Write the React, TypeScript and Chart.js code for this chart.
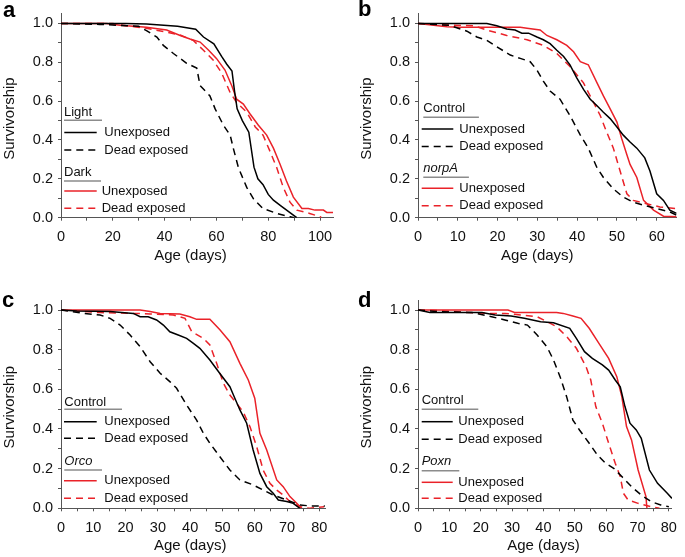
import React, { useEffect, useRef } from 'react';
import { Chart, registerables } from 'chart.js';

Chart.register(...registerables);

type Pt = [number, number];

// ---------- Panel a ----------
const aLightUnexposed: Pt[] = [[0,1],[25,1],[33,0.997],[45,0.985],[52,0.97],[55,0.93],[59,0.895],[62,0.83],[64,0.79],[66,0.755],[67,0.65],[68,0.56],[70,0.5],[72.5,0.44],[74.5,0.26],[76,0.2],[78,0.17],[80,0.12],[82,0.09],[85,0.06],[88,0.03],[91,0]];
const aLightDead: Pt[] = [[0,1],[15,0.995],[30,0.985],[33,0.963],[37,0.93],[39.5,0.887],[43.4,0.845],[48.5,0.795],[52.4,0.77],[53.7,0.68],[57.5,0.627],[59.5,0.56],[62.7,0.476],[65.3,0.425],[66.5,0.358],[68.5,0.257],[71.7,0.156],[74.3,0.097],[78,0.047],[83.3,0.022],[88.4,0.005],[90,0]];
const aDarkUnexposed: Pt[] = [[0,1],[17.6,1],[22.8,0.99],[33,0.98],[40.8,0.966],[46,0.938],[49.8,0.92],[53.7,0.904],[57,0.862],[60,0.82],[63.3,0.76],[66,0.677],[67.8,0.61],[70.4,0.585],[73,0.534],[76.2,0.476],[79.4,0.425],[82,0.358],[84.6,0.274],[87,0.19],[89.7,0.106],[93,0.047],[95.5,0.047],[98,0.039],[101.3,0.039],[102.6,0.027],[105,0.027]];
const aDarkDead: Pt[] = [[0,1],[20,1],[24,0.99],[33,0.975],[40.8,0.955],[46,0.94],[51,0.913],[55,0.862],[58.8,0.81],[62,0.745],[65.3,0.644],[67.8,0.593],[71.7,0.543],[75,0.467],[78,0.425],[80.7,0.341],[83.3,0.257],[85.8,0.156],[88.4,0.08],[91,0.039],[96,0.022],[100,0.005],[100.5,0]];

// ---------- Panel b ----------
const bControlUnexposed: Pt[] = [[0,1],[17.3,1],[19.8,0.988],[22.3,0.971],[24.4,0.966],[26.1,0.95],[27.8,0.95],[29.9,0.93],[31.5,0.916],[33.2,0.896],[34.9,0.862],[36.6,0.83],[38.2,0.787],[39.9,0.72],[41.6,0.66],[43.3,0.61],[45,0.576],[46.6,0.543],[48.3,0.51],[50,0.467],[51.6,0.425],[53.3,0.39],[55,0.358],[57,0.308],[58.3,0.24],[60,0.123],[61.7,0.089],[63.3,0.039],[65,0.022]];
const bControlDead: Pt[] = [[0,1],[8,0.99],[12.3,0.96],[14.8,0.93],[17.3,0.913],[19.8,0.88],[23.2,0.837],[25.7,0.82],[28.2,0.803],[29.9,0.76],[31.5,0.703],[33.2,0.652],[35.7,0.61],[38.2,0.526],[40.8,0.425],[42.8,0.358],[45,0.257],[46.6,0.207],[49.1,0.148],[51.6,0.106],[54.1,0.08],[56.7,0.064],[60,0.047],[63.3,0.03],[65,0.013]];
const bNorpAUnexposed: Pt[] = [[0,1],[7.3,0.983],[10.6,0.98],[25.7,0.98],[27.4,0.975],[30.7,0.966],[32.4,0.938],[34.9,0.916],[37.4,0.887],[39.1,0.854],[40.8,0.803],[42.8,0.787],[45,0.694],[46.6,0.627],[48.3,0.56],[50,0.492],[51.2,0.408],[52.5,0.324],[53.3,0.274],[55,0.207],[56.7,0.089],[59.2,0.039],[61.7,0.008],[65,0.005]];
const bNorpADead: Pt[] = [[0,1],[5.6,0.993],[14,0.988],[17.3,0.966],[22.3,0.938],[27.4,0.916],[31.5,0.887],[34.9,0.845],[38.2,0.778],[41.6,0.694],[43.7,0.61],[45.8,0.526],[47.4,0.442],[49.1,0.358],[50.8,0.24],[52.5,0.123],[54.1,0.089],[57.5,0.072],[60.8,0.055],[65,0.047]];

// ---------- Panel c ----------
const cControlUnexposed: Pt[] = [[0,1],[4.9,0.995],[15.2,0.992],[22.4,0.983],[24.5,0.966],[27,0.966],[29.6,0.95],[31.7,0.924],[33.7,0.89],[36.3,0.874],[38.9,0.857],[41,0.832],[43,0.807],[46.1,0.748],[49.2,0.68],[52.3,0.613],[53.4,0.571],[55.4,0.496],[57.5,0.429],[59.5,0.294],[61.6,0.176],[63.7,0.109],[65.7,0.076],[67.3,0.042],[69.9,0.034],[71.9,0.025],[74,0]];
const cControlDead: Pt[] = [[0,1],[6.9,0.983],[12.1,0.975],[15.2,0.958],[18.3,0.924],[21.4,0.874],[24.5,0.815],[27.6,0.739],[30.7,0.681],[33.7,0.639],[35.8,0.605],[38.9,0.521],[42,0.445],[44.1,0.378],[46.1,0.328],[49.2,0.26],[52.3,0.193],[55.4,0.143],[59.5,0.118],[62.6,0.092],[65.7,0.067],[69.9,0.042],[74,0.017],[77,0.012],[81.7,0.012]];
const cOrcoUnexposed: Pt[] = [[0,1],[24.5,1],[27.6,0.992],[30.7,0.983],[36.8,0.98],[39.9,0.966],[42,0.953],[46.1,0.953],[49.2,0.9],[52.3,0.84],[55.4,0.731],[58,0.647],[60,0.555],[61.6,0.378],[63.7,0.294],[66.8,0.143],[68.8,0.109],[70.9,0.059],[73,0.025],[74.5,0]];
const cOrcoDead: Pt[] = [[0,1],[4.9,0.995],[12.1,0.987],[22.4,0.983],[27.6,0.98],[34.8,0.975],[38.4,0.958],[40.5,0.89],[44.1,0.857],[46.1,0.824],[48.2,0.731],[50.3,0.63],[52.3,0.571],[54.4,0.529],[56.4,0.487],[58.5,0.412],[60.6,0.311],[62.6,0.193],[64.7,0.126],[66.8,0.092],[68.8,0.067],[70.9,0.034],[74,0.008],[77,0],[81.5,0.008]];

// ---------- Panel d ----------
const dControlUnexposed: Pt[] = [[0,1],[3.8,0.988],[20.4,0.988],[24.6,0.975],[29.7,0.97],[33.9,0.958],[39.1,0.941],[43.2,0.936],[48.4,0.908],[50.5,0.857],[53.1,0.79],[55.6,0.756],[58.8,0.723],[60.8,0.697],[62.9,0.647],[64.5,0.613],[66,0.513],[67.6,0.429],[69.6,0.395],[71.2,0.353],[73.8,0.193],[76.4,0.126],[79.5,0.076],[81,0.05]];
const dControlDead: Pt[] = [[0,1],[6.9,0.992],[17.3,0.987],[23.5,0.966],[27.7,0.95],[31.8,0.933],[34.9,0.924],[38,0.874],[41.1,0.815],[43.2,0.748],[45.3,0.664],[47.4,0.563],[49.4,0.445],[51.5,0.395],[54.6,0.328],[57.2,0.269],[59.8,0.227],[62.4,0.202],[65,0.16],[68.1,0.109],[71.2,0.067],[74.3,0.034],[77.4,0.017],[80,0.008]];
const dPoxnUnexposed: Pt[] = [[0,1],[28.7,1],[30.8,0.988],[44.2,0.988],[46.3,0.983],[49.4,0.97],[52,0.958],[54.6,0.908],[57.7,0.832],[60.8,0.756],[63.4,0.664],[65,0.563],[66.5,0.412],[68.1,0.345],[70.2,0.193],[72.7,0.059],[73,0]];
const dPoxnDead: Pt[] = [[0,1],[6.9,0.997],[21.5,0.983],[27.7,0.983],[38,0.966],[42.2,0.933],[44.2,0.916],[47.4,0.866],[50.5,0.807],[53.6,0.714],[55.1,0.647],[56.7,0.513],[58.8,0.429],[60.8,0.328],[62.9,0.227],[64.5,0.16],[65.5,0.076],[67,0.042],[70.2,0.025],[74.3,0.008],[77,0]];

// ---------- Ticks ----------
const yTicks = [0, 0.1, 0.2, 0.3, 0.4, 0.5, 0.6, 0.7, 0.8, 0.9, 1.0];
const yTickLabels = [0, 0.2, 0.4, 0.6, 0.8, 1.0];
const aXTicks = [0, 10, 20, 30, 40, 50, 60, 70, 80, 90, 100];
const aXTickLabels = [0, 20, 40, 60, 80, 100];
const bXTicks = [0, 5, 10, 15, 20, 25, 30, 35, 40, 45, 50, 55, 60];
const bXTickLabels = [0, 10, 20, 30, 40, 50, 60];
const cdXTicks = [0, 5, 10, 15, 20, 25, 30, 35, 40, 45, 50, 55, 60, 65, 70, 75, 80];
const cdXTickLabels = [0, 10, 20, 30, 40, 50, 60, 70, 80];

const seriesNames = ['Unexposed', 'Dead exposed', 'Unexposed', 'Dead exposed'];

const BLACK = '#000000';
const RED = '#ea2229';
const AXIS = '#555555';
const GRAYLINE = '#8c8c8c';
const FONT = '"Liberation Sans", Arial, Helvetica, sans-serif';
const DASH = [7, 5];

type Legend = {
  hx: number; h1: number; u1: number; u1w: number; l1: number; l2: number;
  h2: number; u2: number; u2w: number; l3: number; l4: number;
  lx0: number; lx1: number; tx1: number; tx2: number;
};

type Panel = {
  letter: string;
  letterPos: [number, number];
  canvas: { left: number; top: number; width: number; height: number };
  area: { left: number; right: number; top: number; bottom: number };
  xMax: number;
  xTicks: number[];
  xLabels: number[];
  group1: string;
  group2: string;
  group2Italic: boolean;
  series: Pt[][];
  legend: Legend;
};

const panels: Panel[] = [
  {
    letter: 'a', letterPos: [3, 17],
    canvas: { left: 0, top: 0, width: 342, height: 278 },
    area: { left: 61, right: 333, top: 9.4, bottom: 217.7 },
    xMax: 105, xTicks: aXTicks, xLabels: aXTickLabels,
    group1: 'Light', group2: 'Dark', group2Italic: false,
    series: [aLightUnexposed, aLightDead, aDarkUnexposed, aDarkDead],
    legend: { hx: 3, h1: -105.7, u1: -97.4, u1w: 38, l1: -85.2, l2: -67.7, h2: -45.7, u2: -36.7, u2w: 37, l3: -26.7, l4: -9.4, lx0: 3.3, lx1: 35.7, tx1: 43.3, tx2: 40.7 },
  },
  {
    letter: 'b', letterPos: [358, 16],
    canvas: { left: 342, top: 0, width: 343, height: 278 },
    area: { left: 418, right: 676.6, top: 9.4, bottom: 217.7 },
    xMax: 65, xTicks: bXTicks, xLabels: bXTickLabels,
    group1: 'Control', group2: 'norpA', group2Italic: true,
    series: [bControlUnexposed, bControlDead, bNorpAUnexposed, bNorpADead],
    legend: { hx: 5.3, h1: -109.4, u1: -100.4, u1w: 55.6, l1: -88.7, l2: -71.3, h2: -49.7, u2: -40.4, u2w: 45.6, l3: -29.4, l4: -12, lx0: 3.7, lx1: 35.3, tx1: 41.3, tx2: 41.3 },
  },
  {
    letter: 'c', letterPos: [2, 307],
    canvas: { left: 0, top: 278, width: 342, height: 279 },
    area: { left: 61, right: 325.8, top: 300.1, bottom: 508.3 },
    xMax: 82, xTicks: cdXTicks, xLabels: cdXTickLabels,
    group1: 'Control', group2: 'Orco', group2Italic: true,
    series: [cControlUnexposed, cControlDead, cOrcoUnexposed, cOrcoDead],
    legend: { hx: 3.3, h1: -105.6, u1: -99, u1w: 57.7, l1: -86.6, l2: -70, h2: -46.6, u2: -38.3, u2w: 37.7, l3: -27.6, l4: -10, lx0: 3, lx1: 35.7, tx1: 43.3, tx2: 43.3 },
  },
  {
    letter: 'd', letterPos: [358, 307],
    canvas: { left: 342, top: 278, width: 343, height: 279 },
    area: { left: 418, right: 678.2, top: 300.1, bottom: 508.3 },
    xMax: 81, xTicks: cdXTicks, xLabels: cdXTickLabels,
    group1: 'Control', group2: 'Poxn', group2Italic: true,
    series: [dControlUnexposed, dControlDead, dPoxnUnexposed, dPoxnDead],
    legend: { hx: 3.7, h1: -107.6, u1: -99, u1w: 56.6, l1: -86.6, l2: -69, h2: -46.6, u2: -37.6, u2w: 37.6, l3: -26, l4: -10, lx0: 3.7, lx1: 34.7, tx1: 40.3, tx2: 40.3 },
  },
];

const seriesColors = [BLACK, BLACK, RED, RED];
const seriesDashed = [false, true, false, true];

function isIn(list: number[], v: number) {
  return list.some((l) => Math.abs(l - v) < 1e-6);
}

function makeOverlay(p: Panel) {
  return {
    id: 'overlay_' + p.letter,
    afterDraw(chart: any) {
      const ctx: CanvasRenderingContext2D = chart.ctx;
      const xs = chart.scales.x;
      const ys = chart.scales.y;
      const ox = p.canvas.left;
      const oy = p.canvas.top;
      const left = chart.chartArea.left;
      const y0 = ys.getPixelForValue(0);
      ctx.save();
      // Panel letter
      ctx.fillStyle = '#000';
      ctx.font = `bold 22px ${FONT}`;
      ctx.textAlign = 'left';
      ctx.textBaseline = 'alphabetic';
      ctx.fillText(p.letter, p.letterPos[0] - ox, p.letterPos[1] - oy);
      // Axis titles
      ctx.font = `15px ${FONT}`;
      ctx.fillStyle = '#111';
      ctx.textAlign = 'center';
      ctx.textBaseline = 'middle';
      const xa = xs.getPixelForValue(0);
      const xb = xs.getPixelForValue(p.xLabels[p.xLabels.length - 1]);
      ctx.fillText('Age (days)', (xa + xb) / 2, y0 + 38);
      ctx.save();
      ctx.translate(left - 51.5, ys.getPixelForValue(0.5) - 2);
      ctx.rotate(-Math.PI / 2);
      ctx.fillText('Survivorship', 0, 0);
      ctx.restore();
      // Legend
      const L = p.legend;
      ctx.textAlign = 'left';
      ctx.textBaseline = 'middle';
      ctx.font = `13px ${FONT}`;
      ctx.fillStyle = '#111';
      ctx.fillText(p.group1, left + L.hx, y0 + L.h1);
      ctx.font = `${p.group2Italic ? 'italic ' : ''}13px ${FONT}`;
      ctx.fillText(p.group2, left + L.hx, y0 + L.h2);
      ctx.strokeStyle = GRAYLINE;
      ctx.lineWidth = 1.4;
      ctx.setLineDash([]);
      ctx.beginPath();
      ctx.moveTo(left + L.hx, y0 + L.u1);
      ctx.lineTo(left + L.hx + L.u1w, y0 + L.u1);
      ctx.moveTo(left + L.hx, y0 + L.u2);
      ctx.lineTo(left + L.hx + L.u2w, y0 + L.u2);
      ctx.stroke();
      const rows = [L.l1, L.l2, L.l3, L.l4];
      ctx.font = `13px ${FONT}`;
      rows.forEach((ry, i) => {
        ctx.strokeStyle = seriesColors[i];
        ctx.lineWidth = 1.5;
        ctx.setLineDash(seriesDashed[i] ? DASH : []);
        ctx.beginPath();
        ctx.moveTo(left + L.lx0, y0 + ry);
        ctx.lineTo(left + L.lx1, y0 + ry);
        ctx.stroke();
        ctx.setLineDash([]);
        ctx.fillStyle = '#111';
        ctx.fillText(seriesNames[i], left + (i < 2 ? L.tx1 : L.tx2), y0 + ry);
      });
      ctx.restore();
    },
  };
}

function buildConfig(p: Panel): any {
  const yWidth = p.area.left - p.canvas.left;
  const xHeight = p.canvas.top + p.canvas.height - p.area.bottom;
  const padRight = p.canvas.left + p.canvas.width - p.area.right;
  const padTop = p.area.top - p.canvas.top;
  return {
    type: 'line',
    data: {
      datasets: p.series.map((s, i) => ({
        data: s.map(([x, y]) => ({ x, y })),
        borderColor: seriesColors[i],
        borderWidth: 1.5,
        borderDash: seriesDashed[i] ? DASH : [],
        pointRadius: 0,
        tension: 0,
        fill: false,
      })),
    },
    options: {
      responsive: false,
      maintainAspectRatio: false,
      animation: false,
      devicePixelRatio: 1,
      layout: { padding: { left: 0, right: padRight, top: padTop, bottom: 0 } },
      plugins: { legend: { display: false }, tooltip: { enabled: false }, title: { display: false } },
      scales: {
        x: {
          type: 'linear',
          min: 0,
          max: p.xMax,
          afterBuildTicks: (scale: any) => {
            scale.ticks = p.xTicks.map((v) => ({ value: v }));
          },
          afterFit: (scale: any) => {
            scale.height = xHeight;
          },
          grid: { display: true, drawOnChartArea: false, drawTicks: true, tickLength: 3, color: AXIS, tickColor: AXIS, lineWidth: 1 },
          border: { display: true, color: AXIS, width: 1 },
          ticks: {
            autoSkip: false,
            maxRotation: 0,
            padding: 8,
            color: '#111',
            font: { family: FONT, size: 14.5 },
            callback: (v: number) => (isIn(p.xLabels, v) ? String(v) : ''),
          },
          title: { display: false },
        },
        y: {
          type: 'linear',
          min: 0,
          max: 1.05,
          afterBuildTicks: (scale: any) => {
            scale.ticks = yTicks.map((v) => ({ value: v }));
          },
          afterFit: (scale: any) => {
            scale.width = yWidth;
          },
          grid: { display: true, drawOnChartArea: false, drawTicks: true, tickLength: 3, color: AXIS, tickColor: AXIS, lineWidth: 1 },
          border: { display: true, color: AXIS, width: 1 },
          ticks: {
            autoSkip: false,
            padding: 5,
            color: '#111',
            font: { family: FONT, size: 14.5 },
            callback: (v: number) => (isIn(yTickLabels, v) ? v.toFixed(1) : ''),
          },
          title: { display: false },
        },
      },
    },
    plugins: [makeOverlay(p)],
  };
}

export default function App() {
  const refs = [useRef<HTMLCanvasElement>(null), useRef<HTMLCanvasElement>(null), useRef<HTMLCanvasElement>(null), useRef<HTMLCanvasElement>(null)];

  useEffect(() => {
    const charts: Chart[] = [];
    panels.forEach((p, i) => {
      const c = refs[i].current;
      if (c) charts.push(new Chart(c, buildConfig(p)));
    });
    return () => {
      charts.forEach((ch) => ch.destroy());
    };
  }, []);

  return (
    <div style={{ position: 'absolute', left: 0, top: 0, width: 685, height: 557, background: '#fff', overflow: 'hidden' }}>
      {panels.map((p, i) => (
        <canvas
          key={p.letter}
          ref={refs[i]}
          width={p.canvas.width}
          height={p.canvas.height}
          style={{ position: 'absolute', left: p.canvas.left, top: p.canvas.top, width: p.canvas.width, height: p.canvas.height }}
        />
      ))}
    </div>
  );
}
